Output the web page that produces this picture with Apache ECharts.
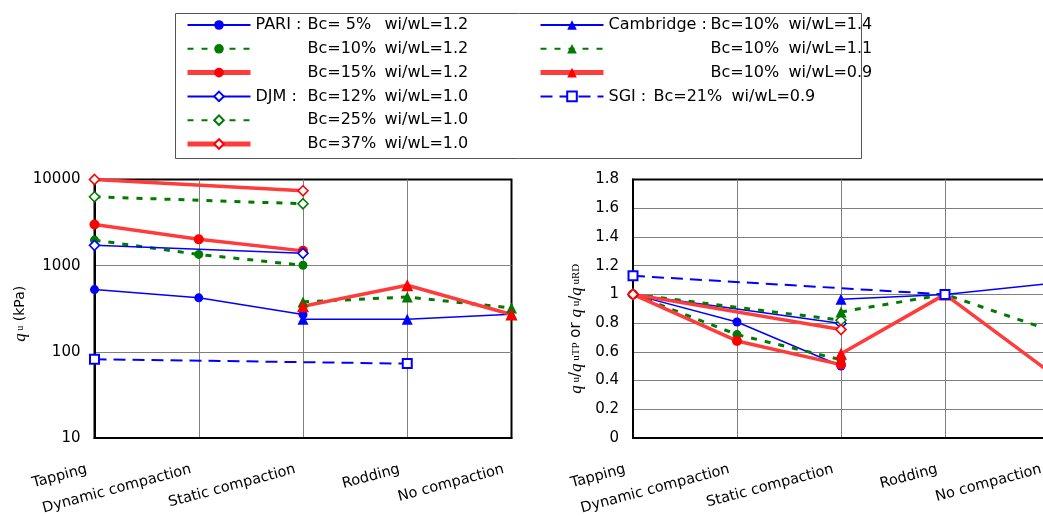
<!DOCTYPE html>
<html><head><meta charset="utf-8">
<script src="https://cdn.jsdelivr.net/npm/echarts@6/dist/echarts.min.js"></script>
<style>html,body{margin:0;padding:0;background:#fff}#c{width:1043px;height:516px}</style>
</head><body><div id="c"></div>
<script>
// ---- data ----
const categories = ['Tapping', 'Dynamic compaction', 'Static compaction', 'Rodding', 'No compaction'];
const leftTicks = [10, 100, 1000, 10000];
const rightTicks = [0, 0.2, 0.4, 0.6, 0.8, 1, 1.2, 1.4, 1.6, 1.8];
const seriesNames = [
  'PARI : Bc= 5%  wi/wL=1.2', 'Bc=10%  wi/wL=1.2', 'Bc=15%  wi/wL=1.2',
  'DJM : Bc=12%  wi/wL=1.0', 'Bc=25%  wi/wL=1.0', 'Bc=37%  wi/wL=1.0',
  'Cambridge : Bc=10%  wi/wL=1.4', 'Bc=10%  wi/wL=1.1', 'Bc=10%  wi/wL=0.9',
  'SGI : Bc=21%  wi/wL=0.9'
];
// left chart: qu (kPa)
const pari5  = [528, 423, 271, null, null];
const pari10 = [1980, 1350, 1010, null, null];
const pari15 = [3010, 2020, 1485, null, null];
const djm12  = [1720, null, 1390, null, null];
const djm25  = [6300, null, 5230, null, null];
const djm37  = [10000, null, 7400, null, null];
const cam14  = [null, null, 239, 239, 273];
const cam11  = [null, null, 380, 433, 323];
const cam09  = [null, null, 338, 593, 271];
const sgi    = [82, null, null, 73, null];
// right chart: qu/quTP or qu/quRD
const pari5r  = [1, 0.808, 0.501, null, null];
const pari10r = [1, 0.72, 0.545, null, null];
const pari15r = [1, 0.676, 0.511, null, null];
const djm12r  = [1, null, 0.797, null, null];
const djm25r  = [1, null, 0.82, null, null];
const djm37r  = [1, null, 0.755, null, null];
const cam14r  = [null, null, 0.966, 1, 1.075];
const cam11r  = [null, null, 0.878, 1, 0.753];
const cam09r  = [null, null, 0.587, 1, 0.463];
const sgir    = [1.129, null, null, 1, null];

// ---- styles ----
const FONT = 'DejaVu Sans';
const BLUE = '#0000ff', GREEN = '#007a00', RED = '#ff3c3c', REDM = '#ff0000';
const lineStyles = {
  blue:  { color: BLUE, width: 1.5, type: 'solid' },
  green: { color: GREEN, width: 3, type: [6, 8] },
  red:   { color: RED, width: 3.5, type: 'solid' },
  sgi:   { color: BLUE, width: 2, type: [12, 7] }
};
const marks = {
  circB: { symbol: 'circle', symbolSize: 9, itemStyle: { color: BLUE } },
  circG: { symbol: 'circle', symbolSize: 9, itemStyle: { color: GREEN } },
  circR: { symbol: 'circle', symbolSize: 10, itemStyle: { color: REDM } },
  diaB:  { symbol: 'diamond', symbolSize: [10, 10], itemStyle: { color: '#fff', borderColor: BLUE, borderWidth: 1.6 } },
  diaG:  { symbol: 'diamond', symbolSize: [10, 10], itemStyle: { color: '#fff', borderColor: GREEN, borderWidth: 1.6 } },
  diaR:  { symbol: 'diamond', symbolSize: [10, 10], itemStyle: { color: '#fff', borderColor: REDM, borderWidth: 1.6 } },
  triB:  { symbol: 'triangle', symbolSize: 11, itemStyle: { color: BLUE } },
  triG:  { symbol: 'triangle', symbolSize: 11, itemStyle: { color: GREEN } },
  triR:  { symbol: 'triangle', symbolSize: 12, itemStyle: { color: REDM } },
  sq:    { symbol: 'rect', symbolSize: 9, itemStyle: { color: '#fff', borderColor: BLUE, borderWidth: 2 } }
};
const spec = [
  ['blue', 'circB'], ['green', 'circG'], ['red', 'circR'],
  ['blue', 'diaB'], ['green', 'diaG'], ['red', 'diaR'],
  ['blue', 'triB'], ['green', 'triG'], ['red', 'triR'],
  ['sgi', 'sq']
];
const leftData = [pari5, pari10, pari15, djm12, djm25, djm37, cam14, cam11, cam09, sgi];
const rightData = [pari5r, pari10r, pari15r, djm12r, djm25r, djm37r, cam14r, cam11r, cam09r, sgir];

function mk(i, data, axisIdx) {
  const m = marks[spec[i][1]];
  return {
    type: 'line', name: seriesNames[i], data: data,
    xAxisIndex: axisIdx, yAxisIndex: axisIdx,
    connectNulls: true, animation: false,
    symbol: m.symbol, symbolSize: m.symbolSize,
    itemStyle: m.itemStyle, lineStyle: lineStyles[spec[i][0]],
    emphasis: { disabled: true }, z: 3
  };
}
const series = [];
leftData.forEach((d, i) => series.push(mk(i, d, 0)));
rightData.forEach((d, i) => series.push(mk(i, d, 1)));

function legendFmt(name) {
  let pre = ' ', rest = name;
  const k = name.indexOf(' : ');
  if (k >= 0) { pre = name.slice(0, k) + ' :'; rest = name.slice(k + 3); }
  const parts = rest.split('  ');
  if (name.indexOf('SGI') === 0) return '{s|' + pre + '}{b|' + parts[0] + '}{w|' + parts[1] + '}';
  return '{p|' + pre + '}{b|' + parts[0] + '}{w|' + parts[1] + '}';
}
function legendRich(pw, bw, sw) {
  const base = { fontFamily: FONT, fontSize: 16, color: '#000', lineHeight: 20 };
  return {
    p: Object.assign({ width: pw }, base),
    s: Object.assign({ width: sw }, base),
    b: Object.assign({ width: bw }, base),
    w: Object.assign({}, base)
  };
}
function legendItems(from, to) {
  return seriesNames.slice(from, to).map((n, j) => {
    const i = from + j;
    return spec[i][0] === 'red' ? { name: n, lineStyle: { width: 5 } } : { name: n };
  });
}
const legendCommon = {
  orient: 'vertical', itemWidth: 63, itemHeight: 12, itemGap: 3.8, padding: 0,
  selectedMode: false, top: 15, inactiveColor: '#000', formatter: legendFmt
};

const axisLabelX = { rotate: 15, margin: 29, padding: [0, 8, 0, 0], fontFamily: FONT, fontSize: 14.5, color: '#000' };
const splitLine = { show: true, showMinLine: false, showMaxLine: false, lineStyle: { color: '#7f7f7f', width: 1 } };
const axisLine = { show: true, lineStyle: { color: '#000', width: 2 } };

const option = {
  backgroundColor: '#fff',
  animation: false,
  graphic: [{
    type: 'rect', left: 173, top: 11, shape: { width: 686, height: 145 },
    style: { fill: 'none', stroke: '#555', lineWidth: 1 }, z: -1
  }],
  legend: [
    Object.assign({}, legendCommon, {
      left: 185, data: legendItems(0, 6),
      textStyle: { fontFamily: FONT, fontSize: 16, color: '#000', lineHeight: 20, rich: legendRich(52, 77, 0) }
    }),
    Object.assign({}, legendCommon, {
      left: 538, data: legendItems(6, 10),
      textStyle: { fontFamily: FONT, fontSize: 16, color: '#000', lineHeight: 20, rich: legendRich(102, 78, 45) }
    })
  ],
  grid: [
    { left: 94.5, top: 179.5, width: 417, height: 258.5, show: true, borderColor: '#000', borderWidth: 2, outerBoundsMode: 'none', containLabel: false },
    { left: 633, top: 179.5, width: 416, height: 258.5, show: true, borderColor: '#000', borderWidth: 2, outerBoundsMode: 'none', containLabel: false }
  ],
  xAxis: [0, 1].map(g => ({
    type: 'category', gridIndex: g, data: categories, boundaryGap: false,
    axisLine: axisLine, axisTick: { show: false }, splitLine: splitLine,
    axisLabel: axisLabelX,
    name: 'Molding method', nameLocation: 'middle', nameGap: 59,
    nameTextStyle: { fontFamily: FONT, fontSize: 15, color: '#000' }
  })),
  yAxis: [
    {
      type: 'log', gridIndex: 0, logBase: 10, min: leftTicks[0], max: leftTicks[leftTicks.length - 1],
      axisLine: axisLine, axisTick: { show: false }, splitLine: splitLine, minorSplitLine: { show: false },
      axisLabel: { margin: 14, fontFamily: FONT, fontSize: 15, color: '#000', formatter: v => String(Math.round(v)) },
      name: '{q|q}{s| u} (kPa)', nameLocation: 'middle', nameGap: 62,
      nameTextStyle: {
        fontFamily: FONT, fontSize: 14, color: '#000', padding: [0, 10, 0, 0],
        rich: { q: { fontFamily: 'Liberation Serif', fontStyle: 'italic', fontSize: 17, color: '#000' },
                s: { fontFamily: 'Liberation Serif', fontSize: 10, color: '#000' } }
      }
    },
    {
      type: 'value', gridIndex: 1, min: rightTicks[0], max: rightTicks[rightTicks.length - 1], interval: 0.2,
      axisLine: axisLine, axisTick: { show: false }, splitLine: splitLine,
      axisLabel: { margin: 14, fontFamily: FONT, fontSize: 15, color: '#000', formatter: v => String(+v.toFixed(1)) },
      name: '{q|q}{s| u}/{q|q}{s| uTP} or {q|q}{s| u}/{q|q}{s| uRD}', nameLocation: 'middle', nameGap: 48,
      nameTextStyle: {
        fontFamily: FONT, fontSize: 15, color: '#000', padding: [0, 40, 0, 0],
        rich: { q: { fontFamily: 'Liberation Serif', fontStyle: 'italic', fontSize: 17, color: '#000' },
                s: { fontFamily: 'Liberation Serif', fontSize: 11, color: '#000' } }
      }
    }
  ],
  series: series
};
const chart = echarts.init(document.getElementById('c'), null, { renderer: 'canvas' });
chart.setOption(option);
</script>
</body></html>
